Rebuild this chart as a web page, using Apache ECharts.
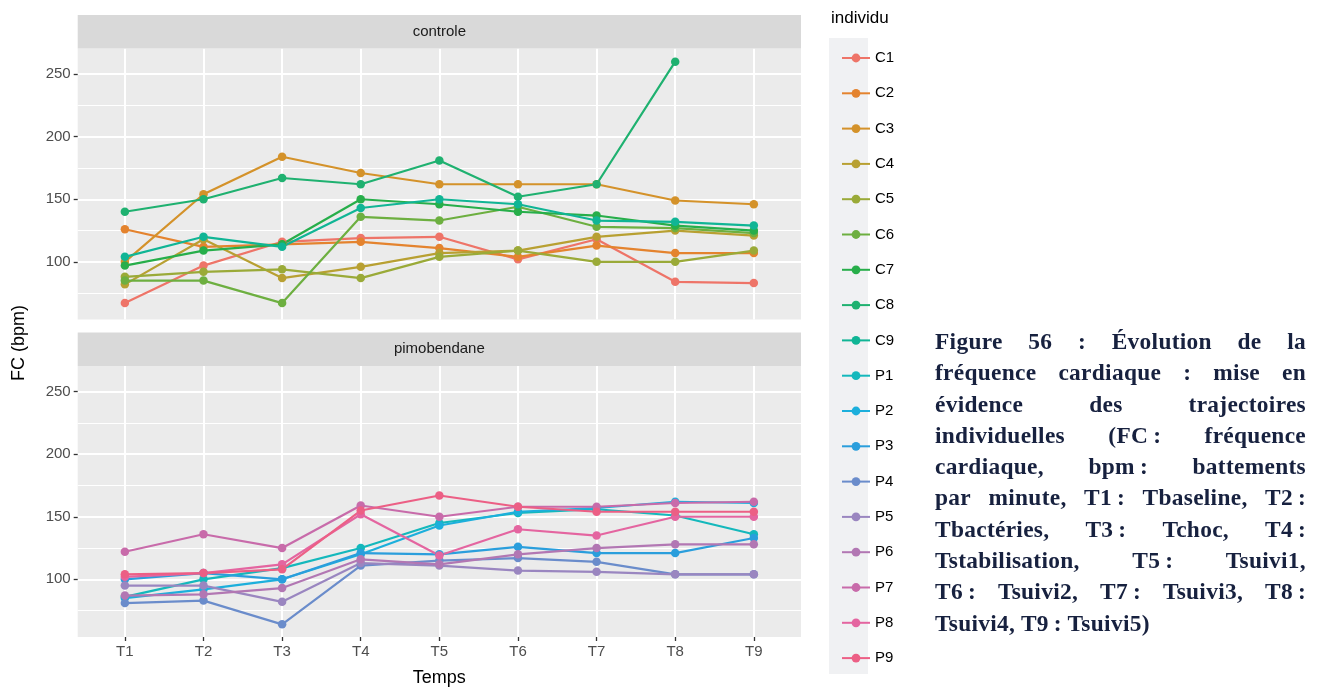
<!DOCTYPE html>
<html><head><meta charset="utf-8">
<script src="https://cdn.jsdelivr.net/npm/echarts@6/dist/echarts.min.js"></script>
<style>
html,body{margin:0;padding:0;background:#fff;}
#chart{position:absolute;left:0;top:0;width:1318px;height:690px;}
#caption{position:absolute;left:935px;top:326px;width:371px;font-family:'Liberation Serif','DejaVu Serif',serif;font-weight:bold;font-size:23.4px;line-height:31.3px;letter-spacing:0.3px;color:#17213F;}
#caption div{text-align:justify;text-align-last:justify;white-space:nowrap;}
#caption div.last{text-align-last:left;}
</style></head><body>
<div id="chart"></div>
<div id="caption">
<div>Figure 56 : Évolution de la</div>
<div>fréquence cardiaque : mise en</div>
<div>évidence des trajectoires</div>
<div>individuelles (FC&#8239;: fréquence</div>
<div>cardiaque, bpm&#8239;: battements</div>
<div>par minute, T1&#8239;: Tbaseline, T2&#8239;:</div>
<div>Tbactéries, T3&#8239;: Tchoc, T4&#8239;:</div>
<div>Tstabilisation, T5&#8239;: Tsuivi1,</div>
<div>T6&#8239;: Tsuivi2, T7&#8239;: Tsuivi3, T8&#8239;:</div>
<div class="last">Tsuivi4, T9&#8239;: Tsuivi5)</div>
</div>
<script>
// ---- data ----
const categories = ['T1','T2','T3','T4','T5','T6','T7','T8','T9'];
const panelNames = ['controle','pimobendane'];
const yMajorTicks = [100,150,200,250];
const yMinorTicks = [75,125,175,225];

const C1 = [67, 97, 116, 119, 120, 102, 118, 84, 83];
const C2 = [126, 112, 114, 116, 111, 104, 113, 107, 107];
const C3 = [100, 154, 184, 171, 162, 162, 162, 149, 146];
const C4 = [82, 118, 87, 96, 107, 109, 120, 125, 121];
const C5 = [88, 92, 94, 87, 104, 109, 100, 100, 109];
const C6 = [85, 85, 67, 136, 133, 144, 128, 127, 123];
const C7 = [97, 109, 114, 150, 146, 140, 137, 129, 125];
const C8 = [140, 150, 167, 162, 181, 152, 162, 260, null];
const C9 = [104, 120, 112, 143, 150, 146, 133, 132, 129];

const P1 = [86, 100, 109, 125, 145, 153, 156, 151, 136];
const P2 = [85, 92, 100, 120, 143, 154, 157, 162, 161];
const P3 = [100, 105, 100, 121, 120, 126, 121, 121, 133];
const P4 = [81, 83, 64, 111, 115, 117, 114, 104, 104];
const P5 = [95, 95, 82, 113, 111, 107, 106, 104, 104];
const P6 = [87, 88, 93, 116, 112, 120, 125, 128, 128];
const P7 = [122, 136, 125, 159, 150, 158, 158, 161, 162];
const P8 = [102, 105, 112, 152, 119, 140, 135, 150, 150];
const P9 = [104, 105, 108, 155, 167, 158, 154, 154, 154];

const controlNames = ['C1','C2','C3','C4','C5','C6','C7','C8','C9'];
const controlValues = [C1,C2,C3,C4,C5,C6,C7,C8,C9];
const patientNames = ['P1','P2','P3','P4','P5','P6','P7','P8','P9'];
const patientValues = [P1,P2,P3,P4,P5,P6,P7,P8,P9];

// ---- style ----
const colors = ['#EE7468','#E4832E','#D4922A','#B8A032','#9AAA38','#6DAF40','#27AE4A','#1FB170','#10B595',
                '#14B8BC','#1CAFDC','#2A9EDC','#6A8CCB','#9A86C0','#B277B3','#C86BAA','#E465A0','#EC5F85'];
const FONT = "'Liberation Sans', Arial, sans-serif";
const G = {left:77.7, width:723.3, top0:48.5, top1:366, h:271};
const yMin = 53.9, yMax = 270.5;
const xTicks = categories.map((c,i)=>i+1);

function mkSeries(name, vals, color, gi) {
  const data = [];
  vals.forEach((v,i)=>{ if (v !== null) data.push([i+1, v]); });
  return {
    name, type:'line', xAxisIndex: gi, yAxisIndex: gi*2, data,
    symbol:'circle', symbolSize:8.5, showSymbol:true,
    lineStyle:{width:2.2, color}, itemStyle:{color},
    emphasis:{disabled:true}, silent:true
  };
}
const series = [];
controlNames.forEach((n,i)=>series.push(mkSeries(n, controlValues[i], colors[i], 0)));
patientNames.forEach((n,i)=>series.push(mkSeries(n, patientValues[i], colors[9+i], 1)));

function xAxis(gi, showLabels) {
  return {
    type:'value', gridIndex:gi, min:0.4, max:9.6,
    axisLine:{show:false},
    axisTick:{show:showLabels, customValues:xTicks, length:4, lineStyle:{color:'#333', width:1.3}},
    axisLabel:{show:showLabels, customValues:xTicks, formatter:v=>categories[Math.round(v)-1] || '',
               color:'#4D4D4D', fontSize:15, fontFamily:FONT, margin:7},
    splitLine:{show:true, lineStyle:{color:'#FFFFFF', width:2}}
  };
}
function yAxes(gi) {
  return [{
    type:'value', gridIndex:gi, min:yMin, max:yMax,
    axisLine:{show:false},
    axisTick:{show:true, customValues:yMajorTicks, length:4, lineStyle:{color:'#333', width:1.3}},
    axisLabel:{customValues:yMajorTicks, color:'#4D4D4D', fontSize:15, fontFamily:FONT, margin:7},
    splitLine:{show:true, lineStyle:{color:'#FFFFFF', width:2}}, z:2
  },{
    type:'value', gridIndex:gi, min:yMin, max:yMax,
    axisLine:{show:false},
    axisTick:{show:false, customValues:yMinorTicks},
    axisLabel:{show:false, customValues:yMinorTicks},
    splitLine:{show:true, lineStyle:{color:'#FFFFFF', width:1}}, z:1
  }];
}

const allNames = controlNames.concat(patientNames);
const panelTops = [G.top0, G.top1];
const graphics = [];
panelTops.forEach((t,i)=>{
  graphics.push({type:'rect', shape:{x:G.left, y:t-33.5, width:G.width, height:33.5}, style:{fill:'#D9D9D9'}, z:1});
  graphics.push({type:'text', x:G.left+G.width/2, y:t-16.75, style:{text:panelNames[i], fill:'#1A1A1A', fontSize:15, fontFamily:FONT, align:'center', verticalAlign:'middle'}, z:2});
});
graphics.push({type:'rect', shape:{x:829, y:38, width:39, height:636}, style:{fill:'#F0F1F3'}, z:0});
graphics.push({type:'text', x:831, y:18, style:{text:'individu', fill:'#000', fontSize:17, fontFamily:FONT, align:'left', verticalAlign:'middle'}, z:2});
graphics.push({type:'text', x:19, y:343, rotation:Math.PI/2, style:{text:'FC (bpm)', fill:'#000', fontSize:18, fontFamily:FONT, align:'center', verticalAlign:'middle'}, z:2});
graphics.push({type:'text', x:G.left+G.width/2, y:678, style:{text:'Temps', fill:'#000', fontSize:18, fontFamily:FONT, align:'center', verticalAlign:'middle'}, z:2});

const chart = echarts.init(document.getElementById('chart'), null, {renderer:'canvas'});
chart.setOption({
  animation:false,
  backgroundColor:'#FFFFFF',
  grid:[
    {left:G.left, top:G.top0, width:G.width, height:G.h, show:true, backgroundColor:'#EBEBEB', borderWidth:0},
    {left:G.left, top:G.top1, width:G.width, height:G.h, show:true, backgroundColor:'#EBEBEB', borderWidth:0}
  ],
  xAxis:[xAxis(0,false), xAxis(1,true)],
  yAxis:yAxes(0).concat(yAxes(1)),
  legend:{
    orient:'vertical', left:836, top:45.5, height:635, itemWidth:28, itemHeight:11, itemGap:20.3,
    data:allNames, selectedMode:false, z:5,
    textStyle:{color:'#000', fontSize:15, fontFamily:FONT}
  },
  graphic:{elements:graphics},
  series
});
</script>
</body></html>
